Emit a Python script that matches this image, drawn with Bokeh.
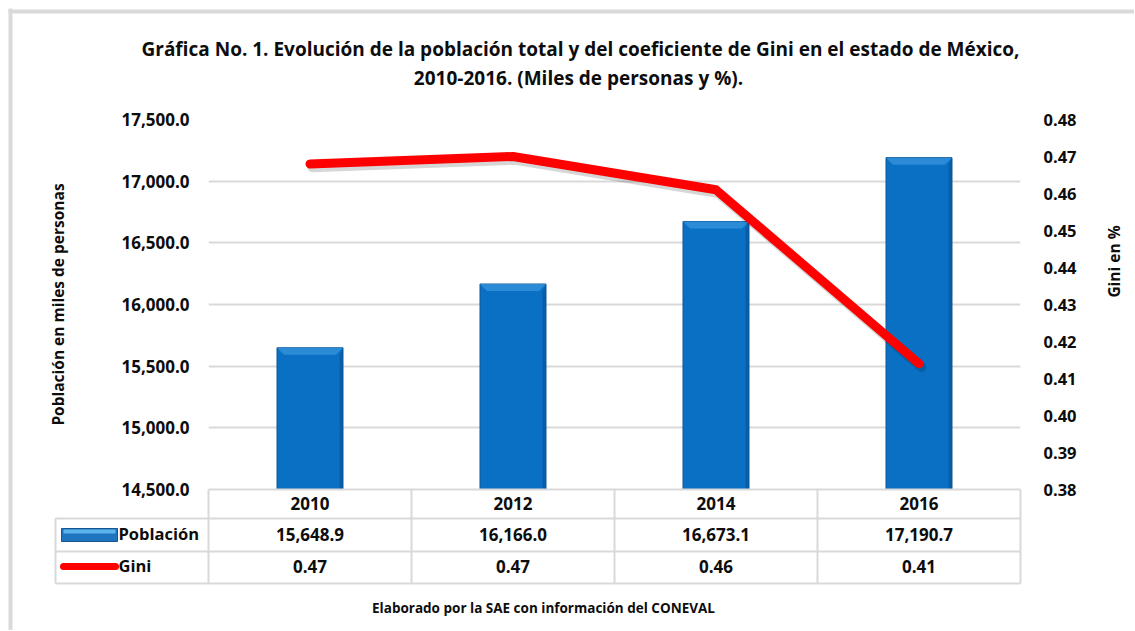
import math
from bokeh.plotting import figure
from bokeh.models import (Range1d, LinearAxis, FixedTicker, NumeralTickFormatter, ColumnDataSource)
from bokeh.core.properties import value
from bokeh.embed import file_html
from bokeh.resources import INLINE

# ---------------- data ----------------
years = ["2010", "2012", "2014", "2016"]
poblacion = [15648.9, 16166.0, 16673.1, 17190.7]
gini = [0.468, 0.470, 0.461, 0.414]
pop_ticks = [14500, 15000, 15500, 16000, 16500, 17000, 17500]
gini_ticks = [0.38, 0.39, 0.40, 0.41, 0.42, 0.43, 0.44, 0.45, 0.46, 0.47, 0.48]
title_lines = ["Gráfica No. 1. Evolución de la población total y del coeficiente de Gini en el estado de México,",
               "2010-2016. (Miles de personas y %)."]
row_labels = ["Población", "Gini"]
y_left_label = "Población en miles de personas"
y_right_label = "Gini en %"
footer = "Elaborado por la SAE con información del CONEVAL"

# ---------------- layout (page pixels) ----------------
PAGE = 0
FL, FT, FR, FB = 208, 119, 1020, 489
FW, FH = FR - FL, FB - FT
W, H = 1134, 630


def PX(x):
    return x - FL


def PY(y):
    return y - FT


FONT = "Open Sans"
TXT = "#0d0d0d"
GRID = "#d9d9d9"
TS = "16.5px"

n = len(years)
xc = [i + 0.5 for i in range(n)]   # category centres on a 0..n axis

p = figure(x_range=Range1d(0, n), y_range=Range1d(pop_ticks[0], pop_ticks[-1]),
           frame_width=FW, frame_height=FH,
           min_border_left=FL - PAGE, min_border_right=W - (FR - PAGE),
           min_border_top=FT - PAGE, min_border_bottom=H - (FB - PAGE),
           output_backend="svg", toolbar_location=None,
           background_fill_color="white", border_fill_color="white")
p.outline_line_color = None
p.extra_y_ranges = {"gini": Range1d(gini_ticks[0], gini_ticks[-1]), "px": Range1d(FH, 0)}
p.extra_x_ranges = {"px": Range1d(0, FW)}

# axes
p.xaxis.visible = False
ya = p.yaxis[0]
ya.ticker = FixedTicker(ticks=pop_ticks)
ya.formatter = NumeralTickFormatter(format="0,0.0")
ya.major_tick_line_color = None
ya.minor_tick_line_color = None
ya.axis_line_color = None
ya.major_label_text_font = FONT
ya.major_label_text_font_style = "bold"
ya.major_label_text_font_size = "17px"
ya.major_label_text_color = TXT
ya.major_label_standoff = 13

ra = LinearAxis(y_range_name="gini", ticker=FixedTicker(ticks=gini_ticks),
                formatter=NumeralTickFormatter(format="0.00"))
ra.major_tick_line_color = None
ra.minor_tick_line_color = None
ra.axis_line_color = None
ra.major_label_text_font = FONT
ra.major_label_text_font_style = "bold"
ra.major_label_text_font_size = TS
ra.major_label_text_color = TXT
ra.major_label_standoff = 17
p.add_layout(ra, "right")

p.xgrid.visible = False
p.ygrid.ticker = FixedTicker(ticks=pop_ticks)
p.ygrid.grid_line_color = GRID
p.ygrid.grid_line_width = 2

# ---------------- bars ----------------
BW = 0.325
bh = 7 * (pop_ticks[-1] - pop_ticks[0]) / FH
bw = 7 / (FW / n)
src = ColumnDataSource(dict(x=xc, year=years, pop=poblacion))
p.vbar(x="x", top="pop", bottom=pop_ticks[0], width=BW, source=src,
       fill_color="#0A70C4", line_color="#0B5797", line_width=1)
# top bevel (lighter) and right bevel (darker)
p.patches(xs=[[c - BW / 2, c + BW / 2, c + BW / 2 - bw, c - BW / 2 + bw] for c in xc],
          ys=[[t, t, t - bh, t - bh] for t in poblacion],
          fill_color="#3592DC", fill_alpha=0.8, line_color=None)
p.patches(xs=[[c + BW / 2, c + BW / 2, c + BW / 2 - bw / 2, c + BW / 2 - bw / 2] for c in xc],
          ys=[[t, pop_ticks[0], pop_ticks[0], t - bh] for t in poblacion],
          fill_color="#0A569B", fill_alpha=0.7, line_color=None)

# ---------------- gini line ----------------
p.line([c + 0.012 for c in xc], [g - 0.0009 for g in gini], y_range_name="gini",
       line_color="black", line_alpha=0.16, line_width=10, line_cap="round", line_join="round")
p.line(xc, gini, y_range_name="gini", line_color="#FF0000", line_width=9,
       line_cap="round", line_join="round")

# ---------------- helper for overlay text ----------------


def txt(x, y, t, size=TS, align="center", angle=0.0, xr="px"):
    p.text(x=x, y=y, text=t, x_range_name=xr, y_range_name="px", level="overlay",
           text_font=value(FONT), text_font_style="bold", text_font_size=size,
           text_color=TXT, text_align=align, text_baseline="middle", angle=angle)


# title
txt([PX(580)], [PY(48)], [title_lines[0]], size="19px")
txt([PX(578)], [PY(77)], [title_lines[1]], size="19px")

# axis titles
txt([PX(57)], [PY(304)], [y_left_label], size="15.5px", angle=math.pi / 2)
txt([PX(1113)], [PY(261)], [y_right_label], size="15.5px", angle=math.pi / 2)

# ---------------- data table ----------------
r_head, r_pop, r_gini, r_end = 489, 518, 551, 583
# horizontal lines
p.segment(x0=[PX(55)] * 3, x1=[PX(FR)] * 3, y0=[PY(r_pop), PY(r_gini), PY(r_end)],
          y1=[PY(r_pop), PY(r_gini), PY(r_end)], x_range_name="px", y_range_name="px",
          line_color=GRID, line_width=2, level="overlay")
p.segment(x0=[0], x1=[n], y0=[PY(r_head)], y1=[PY(r_head)], y_range_name="px",
          line_color=GRID, line_width=2, level="overlay")
# vertical lines
p.segment(x0=list(range(n + 1)), x1=list(range(n + 1)), y0=[PY(r_head)] * (n + 1),
          y1=[PY(r_end)] * (n + 1), y_range_name="px", line_color=GRID, line_width=2, level="overlay")
p.segment(x0=[PX(55)], x1=[PX(55)], y0=[PY(r_pop)], y1=[PY(r_end)], x_range_name="px",
          y_range_name="px", line_color=GRID, line_width=2, level="overlay")

txt(xc, [PY(503)] * n, years, size="17px", xr="default")
txt(xc, [PY(534)] * n, [f"{v:,.1f}" for v in poblacion], size="17px", xr="default")
txt(xc, [PY(566)] * n, [f"{g:.2f}" for g in gini], size="17px", xr="default")
txt([PX(118), PX(118)], [PY(533), PY(565)], row_labels, align="left")

# legend swatches
p.quad(left=[PX(61)], right=[PX(117)], top=[PY(528)], bottom=[PY(541)], x_range_name="px",
       y_range_name="px", fill_color="#1F74BE", line_color="#17558F", line_width=1, level="overlay")
p.quad(left=[PX(63)], right=[PX(115)], top=[PY(529)], bottom=[PY(533)], x_range_name="px",
       y_range_name="px", fill_color="#5DB3EE", line_color=None, level="overlay")
p.segment(x0=[PX(63)], x1=[PX(115)], y0=[PY(566)], y1=[PY(566)], x_range_name="px",
          y_range_name="px", line_color="#FF0000", line_width=7, line_cap="round", level="overlay")

# footer
txt([PX(543)], [PY(607)], [footer], size="13.5px")

# outer border (left and top)
p.segment(x0=[PX(10), PX(8)], x1=[PX(10), PX(1140)], y0=[PY(8), PY(11)], y1=[PY(640), PY(11)],
          x_range_name="px", y_range_name="px", line_color="#dadada", line_width=4, level="overlay")

open("out.html", "w").write(file_html(p, INLINE))
